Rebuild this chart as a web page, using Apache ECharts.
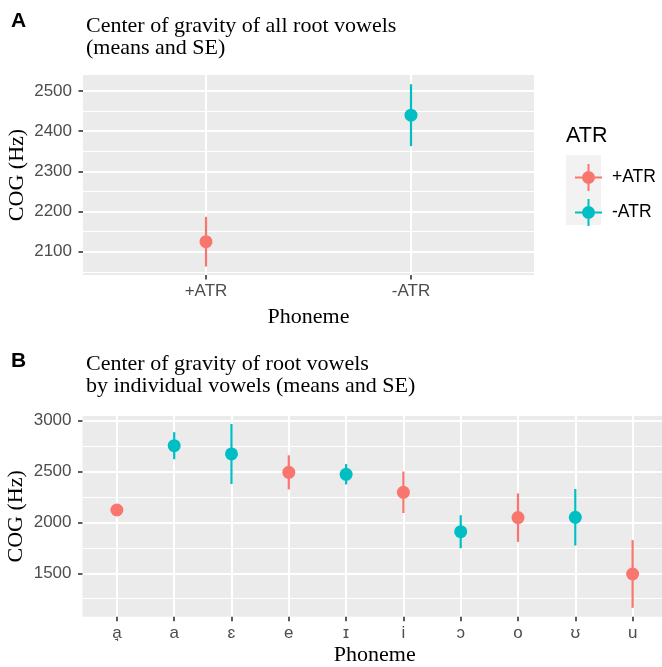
<!DOCTYPE html>
<html><head><meta charset="utf-8">
<script src="https://cdn.jsdelivr.net/npm/echarts@6/dist/echarts.min.js"></script>
<style>html,body{margin:0;padding:0;background:#fff}#c{width:662px;height:667px}</style>
</head><body><div id="c"></div>
<script>
// ---- data ----
const groups = ['+ATR', '-ATR'];
const groupColors = ['#F8766D', '#00BFC4'];

const panelACategories = ['+ATR', '-ATR'];
const panelAGroup = ['+ATR', '-ATR'];
const panelAMean = [2125, 2440];
const panelASE = [62, 77];
const panelAYTicks = [2100, 2200, 2300, 2400, 2500];
const panelAYMinor = [2050, 2150, 2250, 2350, 2450];

const panelBCategories = ['a\u0318', 'a', '\u025B', 'e', '\u026A', 'i', '\u0254', 'o', '\u028A', 'u'];
const panelBGroup = ['+ATR', '-ATR', '-ATR', '+ATR', '-ATR', '+ATR', '-ATR', '+ATR', '-ATR', '+ATR'];
const panelBMean = [2122, 2754, 2673, 2492, 2473, 2296, 1909, 2047, 2050, 1493];
const panelBSE = [20, 133, 295, 168, 100, 204, 162, 238, 278, 333];
const panelBYTicks = [1500, 2000, 2500, 3000];
const panelBYMinor = [1250, 1750, 2250, 2750];

const titleA = 'Center of gravity of all root vowels\n(means and SE)';
const titleB = 'Center of gravity of root vowels\nby individual vowels (means and SE)';

// ---- styling ----
const SANS = "'Liberation Sans', 'DejaVu Sans', Arial, sans-serif";
const SERIF = "'Liberation Serif', 'DejaVu Serif', serif";
const tickLabel = { fontFamily: SANS, fontSize: 17, color: '#4D4D4D' };
const tickStyle = { length: 4.5, lineStyle: { color: '#333333', width: 1.6 } };
const nameStyle = { fontFamily: SERIF, fontSize: 22, color: '#000' };

function points(cats, grp, mean, g) {
  const out = [];
  cats.forEach((c, i) => { if (grp[i] === g) out.push([i + 1, mean[i]]); });
  return out;
}
function bars(cats, grp, mean, se, g) {
  const out = [];
  cats.forEach((c, i) => { if (grp[i] === g) out.push([i + 1, mean[i] - se[i], mean[i] + se[i]]); });
  return out;
}
function renderBar(params, api) {
  const x = api.value(0);
  const p1 = api.coord([x, api.value(1)]);
  const p2 = api.coord([x, api.value(2)]);
  return { type: 'line', shape: { x1: p1[0], y1: p1[1], x2: p2[0], y2: p2[1] },
           style: { stroke: api.visual('color'), lineWidth: 2.2 } };
}

function xAxisDef(gridIndex, cats, nameGap) {
  const vals = cats.map((c, i) => i + 1);
  return {
    type: 'value', gridIndex: gridIndex, min: 0.4, max: cats.length + 0.6,
    axisLine: { show: false },
    axisTick: Object.assign({ show: true, customValues: vals }, tickStyle),
    axisLabel: Object.assign({ customValues: vals, margin: 8,
      formatter: v => cats[Math.round(v) - 1] }, tickLabel),
    splitLine: { show: true, lineStyle: { color: '#FFFFFF', width: 2 } },
    name: 'Phoneme', nameLocation: 'middle', nameGap: nameGap, nameMoveOverlap: false,
    nameTextStyle: nameStyle
  };
}
function yMinorDef(gridIndex, min, max, minor) {
  return {
    type: 'value', gridIndex: gridIndex, min: min, max: max, position: 'left',
    axisLine: { show: false }, axisLabel: { show: false },
    axisTick: { show: false, customValues: minor },
    splitLine: { show: true, lineStyle: { color: '#FFFFFF', width: 1.1 } }
  };
}
function yMajorDef(gridIndex, min, max, ticks) {
  return {
    type: 'value', gridIndex: gridIndex, min: min, max: max, position: 'left',
    axisLine: { show: false },
    axisTick: Object.assign({ show: true, customValues: ticks }, tickStyle),
    axisLabel: Object.assign({ customValues: ticks, margin: 11, formatter: v => String(v) }, tickLabel),
    splitLine: { show: true, lineStyle: { color: '#FFFFFF', width: 2 } },
    name: 'COG (Hz)', nameLocation: 'middle', nameGap: 55, nameMoveOverlap: false,
    nameTextStyle: nameStyle
  };
}

const series = [];
groups.forEach((g, gi) => {
  series.push({ type: 'scatter', name: g, xAxisIndex: 0, yAxisIndex: 1, symbolSize: 13,
    itemStyle: { color: groupColors[gi], opacity: 1 }, z: 4,
    data: points(panelACategories, panelAGroup, panelAMean, g) });
  series.push({ type: 'scatter', name: g, xAxisIndex: 1, yAxisIndex: 3, symbolSize: 13,
    itemStyle: { color: groupColors[gi], opacity: 1 }, z: 4,
    data: points(panelBCategories, panelBGroup, panelBMean, g) });
});
groups.forEach((g, gi) => {
  series.push({ type: 'custom', name: g, xAxisIndex: 0, yAxisIndex: 1, z: 3,
    itemStyle: { color: groupColors[gi] }, renderItem: renderBar, encode: { x: 0, y: [1, 2] },
    data: bars(panelACategories, panelAGroup, panelAMean, panelASE, g) });
  series.push({ type: 'custom', name: g, xAxisIndex: 1, yAxisIndex: 3, z: 3,
    itemStyle: { color: groupColors[gi] }, renderItem: renderBar, encode: { x: 0, y: [1, 2] },
    data: bars(panelBCategories, panelBGroup, panelBMean, panelBSE, g) });
});

const keyIcon = 'path://M0,12.5H27V14.5H0Z M12.5,0H14.5V27H12.5Z M7,13.5A6.5,6.5 0 1 1 20,13.5A6.5,6.5 0 1 1 7,13.5Z';

const chart = echarts.init(document.getElementById('c'), null, { renderer: 'canvas' });
chart.setOption({
  animation: false,
  backgroundColor: '#FFFFFF',
  grid: [
    { left: 83, top: 75, right: 128, bottom: 392, show: true, backgroundColor: '#EBEBEB', borderWidth: 0,
      containLabel: false, outerBoundsMode: 'none' },
    { left: 82.5, top: 416, right: -5, bottom: 50.3, show: true, backgroundColor: '#EBEBEB', borderWidth: 0,
      containLabel: false, outerBoundsMode: 'none' }
  ],
  xAxis: [ xAxisDef(0, panelACategories, 31), xAxisDef(1, panelBCategories, 27.5) ],
  yAxis: [
    yMinorDef(0, 2042, 2540, panelAYMinor),
    yMajorDef(0, 2042, 2540, panelAYTicks),
    yMinorDef(1, 1073, 3046, panelBYMinor),
    yMajorDef(1, 1073, 3046, panelBYTicks)
  ],
  legend: {
    data: groups, orient: 'vertical', left: 570, top: 159, itemWidth: 27, itemHeight: 27, itemGap: 8,
    icon: keyIcon,
    formatter: '{t|{name}}',
    textStyle: { fontFamily: SANS, fontSize: 17.5, color: '#000',
      rich: { t: { fontFamily: SANS, fontSize: 17.5, color: '#000', padding: [0, 0, 0, 5] } } },
    selectedMode: false
  },
  graphic: [
    { type: 'rect', z: 1, shape: { x: 566, y: 155, width: 35, height: 70 }, style: { fill: '#F2F2F2' } },
    { type: 'text', z: 5, style: { text: 'ATR', x: 566, y: 136, verticalAlign: 'middle',
      font: "21.5px " + SANS, fill: '#000' } },
    { type: 'text', z: 5, style: { text: 'A', x: 11, y: 21, verticalAlign: 'middle',
      font: "bold 21px " + SANS, fill: '#000' } },
    { type: 'text', z: 5, style: { text: 'B', x: 11, y: 361.5, verticalAlign: 'middle',
      font: "bold 21px " + SANS, fill: '#000' } },
    { type: 'text', z: 5, style: { text: titleA, x: 86, y: 37, verticalAlign: 'middle',
      font: "22px " + SERIF, lineHeight: 21.7, fill: '#000' } },
    { type: 'text', z: 5, style: { text: titleB, x: 86, y: 375, verticalAlign: 'middle',
      font: "22px " + SERIF, lineHeight: 21.7, fill: '#000' } }
  ],
  series: series
});
</script></body></html>
